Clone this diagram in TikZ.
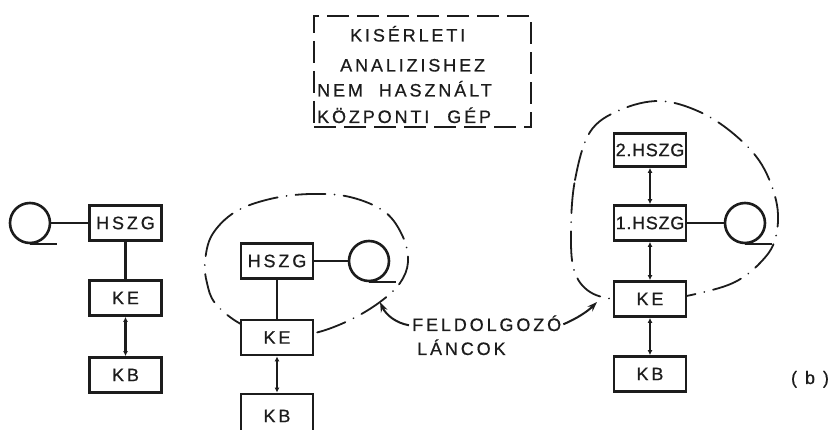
\documentclass[tikz,border=0pt]{standalone}
\usepackage{fontspec}
\setmainfont{Liberation Sans}
\newfontfamily\labfont[LetterSpace=16,FakeBold=0.6]{Liberation Sans}
\newfontfamily\tightfont[LetterSpace=4,FakeBold=0.6]{Liberation Sans}
\usetikzlibrary{arrows.meta}
\definecolor{ink}{HTML}{1C1C1C}
\begin{document}
\begin{tikzpicture}[x=1pt,y=-1pt,
  every node/.style={text=ink},
  box/.style={draw=ink, line width=2.8pt, fill=white, minimum width=72pt, minimum height=35pt, inner sep=0pt, font=\labfont\fontsize{18}{20}\selectfont},
  tape/.style={draw=ink, circle, line width=2.6pt, minimum size=40pt, inner sep=0pt},
  tail/.style={draw=ink, line width=2.4pt},
  link/.style={draw=ink, line width=2.1pt},
  bi/.style={draw=ink, line width=2.1pt, {Latex[length=5pt,width=5pt]}-{Latex[length=5pt,width=5pt]}},
  pointer/.style={draw=ink, line width=2pt, -{Stealth[length=10pt,width=7pt]}},
  chain/.style={draw=ink, line width=1.8pt, line cap=round, dash pattern=on 30pt off 9pt on 0.1pt off 9pt},
  frame/.style={draw=ink, line width=2.8pt, dash pattern=on 22pt off 8pt, minimum width=217pt, minimum height=111pt, inner sep=0pt},
  lbl/.style={inner sep=0pt, font=\labfont\fontsize{18}{20}\selectfont}]
\useasboundingbox (0,0) rectangle (839,430);
\fill[white] (0,0) rectangle (839,430);

% dashed frame with text
\node[frame] (fr) at (422.5,71.5) {};
\node[lbl, anchor=base west] (t1) at (350,41.5) {KISÉRLETI};
\node[lbl, anchor=base west] (t2) at (340,71.5) {ANALIZISHEZ};
\node[lbl, anchor=base west] (t3) at (317,96.5) {NEM\hspace{8pt} HASZNÁLT};
\node[lbl, anchor=base west] (t4) at (317,123) {KÖZPONTI\hspace{10pt} GÉP};

% processing chains (dash-dot outlines)
\draw[chain] plot[smooth cycle, tension=0.6] coordinates {(205,262) (212,235) (235,212) (270,199) (310,194) (350,197) (385,212) (403,237) (408,262) (400,283) (380,302) (350,320) (315,333) (275,338) (239,323) (215,303) (207,283)};
\draw[chain] plot[smooth cycle, tension=0.6] coordinates {(571,230) (575,180) (590,132) (620,110) (660,101) (700,112) (735,135) (762,165) (777,205) (775,240) (760,263) (735,282) (700,293) (660,300) (620,300) (590,292) (574,270)};

% left group
\node[tape] (lt) at (30,223) {};
\node[box] (lh) at (125.5,223) {HSZG};
\node[box] (lk) at (125.5,298) {KE};
\node[box] (lb) at (125.5,375) {KB};
\draw[tail] (lt.south) -- ++(27,0);
\draw[link] (lt.east) -- (lh.west);
\draw[link] (lh.south) -- (lk.north);
\draw[bi] (lk.south) -- (lb.north);

% middle group
\node[box] (mh) at (277,261) {HSZG};
\node[tape] (mt) at (369,261) {};
\node[box] (mk) at (277,337.5) {KE};
\node[box, minimum height=44pt] (mb) at (277,416) {KB};
\draw[tail] (mt.south) -- ++(27,0);
\draw[link] (mh.east) -- (mt.west);
\draw[link] (mh.south) -- (mk.north);
\draw[bi] (mk.south) -- (mb.north);

% right group
\node[box, minimum height=33pt, font=\tightfont\fontsize{18}{20}\selectfont] (rh2) at (650,150) {2.HSZG};
\node[box, font=\tightfont\fontsize{18}{20}\selectfont] (rh1) at (650,223) {1.HSZG};
\node[tape] (rt) at (745,223) {};
\node[box] (rk) at (650,299) {KE};
\node[box] (rb) at (650,374) {KB};
\draw[tail] (rt.south) -- ++(27,0);
\draw[link] (rh1.east) -- (rt.west);
\draw[bi] (rh2.south) -- (rh1.north);
\draw[bi] (rh1.south) -- (rk.north);
\draw[bi] (rk.south) -- (rb.north);

% labels
\node[lbl, anchor=base west] (lab1) at (412,331) {FELDOLGOZÓ};
\node[lbl, anchor=base west] (lab2) at (417,355) {LÁNCOK};
\coordinate (pm) at (380,302);
\coordinate (pr) at (597,302);
\draw[pointer] ([xshift=-3pt,yshift=-2pt]lab1.west) .. controls (396,323) and (386,315) .. (pm);
\draw[pointer] ([xshift=2pt,yshift=-1pt]lab1.east) .. controls (578,318) and (588,311) .. (pr);

\node[lbl, anchor=base] (bl) at (810,384) {(\hspace{8pt}b\hspace{8pt})};
\end{tikzpicture}
\end{document}
